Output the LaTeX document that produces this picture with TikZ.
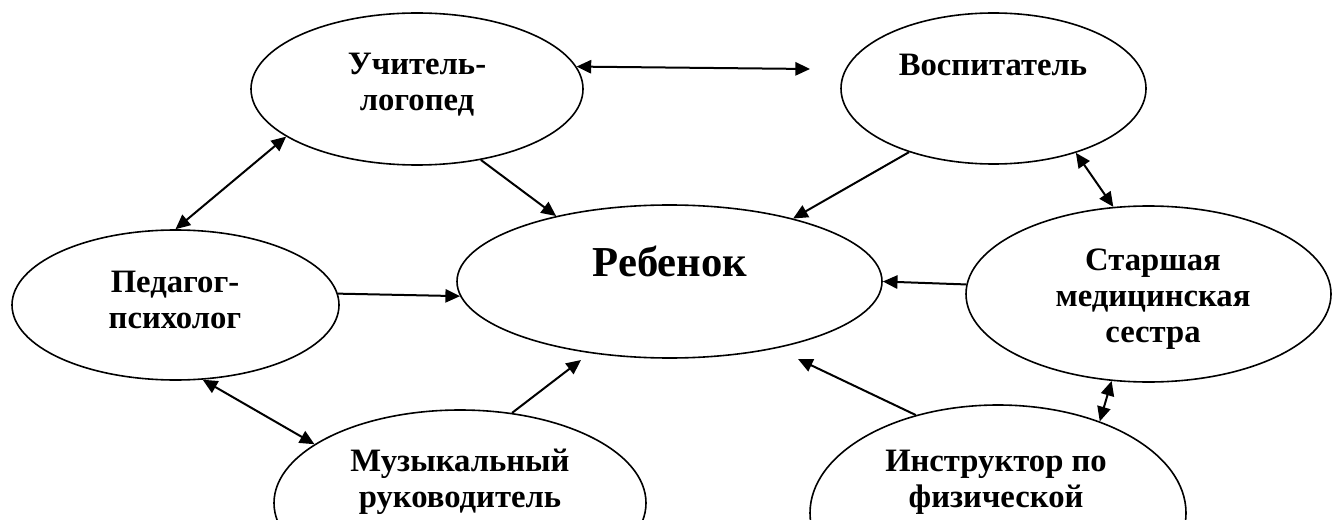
\documentclass[tikz,border=0pt]{standalone}
\usepackage{fontspec}
\setmainfont{Liberation Serif}
\usepackage{tikz}
\usetikzlibrary{arrows.meta}
\usetikzlibrary{shapes.geometric}
\usetikzlibrary{positioning}

\tikzset{
	role/.style={draw, ellipse, line width=1.2pt, inner sep=0pt},
	txt/.style={align=center, inner sep=0pt, font=\bfseries\fontsize{24.5}{27}\selectfont},
	link/.style={line width=1.5pt}
}

\begin{document}
\begin{tikzpicture}[x=0.75pt, y=-0.75pt, >={Triangle[length=11pt, width=10pt]}]
	\useasboundingbox (0,0) rectangle (1333,520);
	\clip (0,0) rectangle (1333,520);
	
	\node[role, minimum width=249pt, minimum height=114pt] (uch) at (417,89) {};
	\node[txt] (uchtxt) at (417,85) {Учитель-\\логопед};
	\node[role, minimum width=228.75pt, minimum height=113.25pt] (vosp) at (993.5,88.5) {};
	\node[txt] (vosptxt) at (993,65) {Воспитатель};
	
	\node[role, minimum width=318.75pt, minimum height=114.75pt] (reb) at (669.5,281.5) {};
	\node[txt, font=\bfseries\fontsize{32}{36}\selectfont] (rebtxt) at (670,261) {Ребенок};
	
	\node[role, minimum width=245.25pt, minimum height=112.5pt] (ped) at (175.5,305) {};
	\node[txt] (pedtxt) at (175,300) {Педагог-\\психолог};
	\node[role, minimum width=273.75pt, minimum height=132pt] (star) at (1148.5,294) {};
	\node[txt] (startxt) at (1153,299) {Старшая\\медицинская\\сестра};
	
	\node[role, minimum width=279pt, minimum height=139.5pt] (muz) at (460,503) {};
	\node[txt] (muztxt) at (460,482) {Музыкальный\\руководитель};
	\node[role, minimum width=282pt, minimum height=162pt] (instr) at (998,513) {};
	\node[txt] (instrtxt) at (996,482) {Инструктор по\\физической};
	
	\coordinate (vospend) at (810,69);
	\coordinate (rebmuz) at (581,360);
	\coordinate (rebinstr) at (798,359);
	
	\draw[link, <->] (uch.8) -- (vospend);
	\draw[link, <->] (ped.north) -- (uch.200);
	\draw[link, ->] (uch.-48) -- (reb.150);
	\draw[link, ->] (vosp.217) -- (reb.27);
	\draw[link, <->] (vosp.-38) -- (star.112);
	\draw[link, ->] (ped.4) -- (reb.184);
	\draw[link, ->] (star.177) -- (reb.east);
	\draw[link, <->] (ped.-70) -- (muz.158);
	\draw[link, ->] (muz.60) -- (rebmuz);
	\draw[link, ->] (instr.130) -- (rebinstr);
	\draw[link, <->] (star.247) -- (instr.42);
\end{tikzpicture}
\end{document}
